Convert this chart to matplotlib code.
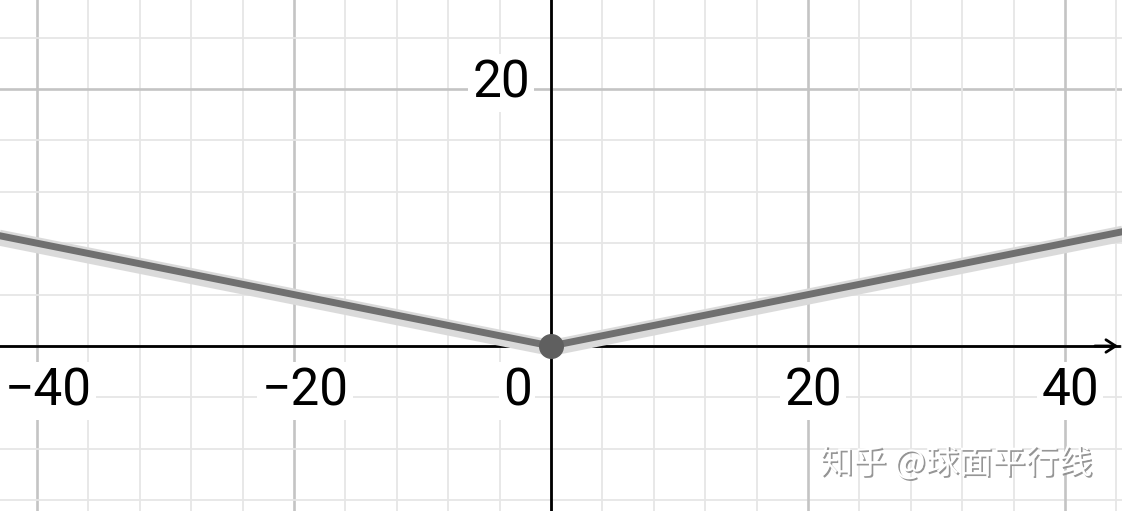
import matplotlib.pyplot as plt
import matplotlib.patheffects as pe
import matplotlib.transforms as mtransforms
import numpy as np

# data: the V-shaped graph
x_vals = [-45, 0, 45]
y_vals = [9, 0, 9]
point_x = [0]
point_y = [0]

x_ticks = [-40, -20, 0, 20, 40]
x_tick_labels = ['\u221240', '\u221220', '0', '20', '40']
y_ticks = [20]
y_tick_labels = ['20']

watermark = '知乎 @球面平行线'

# pixel geometry of the view
W, H = 1122, 511
ox, oy = 551, 346
ppu = 12.85

fig = plt.figure(figsize=(W / 100, H / 100), dpi=100)
ax = fig.add_axes([0, 0, 1, 1])
ax.set_xlim(-ox / ppu, (W - ox) / ppu)
ax.set_ylim(-(H - oy) / ppu, oy / ppu)
ax.set_axis_off()

# grid
for v in np.arange(-60, 61, 4):
    major = v % 20 == 0
    col = '#c4c4c4' if major else '#e6e6e6'
    lw = 1.9 if major else 1.3
    ax.axvline(v, color=col, lw=lw, zorder=1)
    ax.axhline(v, color=col, lw=lw, zorder=1)

# axes
ax.axvline(0, color='black', lw=2.0, zorder=4)
ax.plot([-50, (W - 3 - ox) / ppu], [0, 0], color='black', lw=2.0, zorder=4)
ax.annotate('', xy=((W - 1 - ox) / ppu, 0), xytext=((W - 30 - ox) / ppu, 0),
            arrowprops=dict(arrowstyle='->,head_length=0.7,head_width=0.45',
                            color='black', lw=2.0), zorder=4)

# tick labels
lab_kw = dict(fontsize=37, family='Roboto', color='black', zorder=3,
              bbox=dict(boxstyle='square,pad=0.08', fc='white', ec='none'))
for v, s in zip(x_ticks, x_tick_labels):
    if v == 0:
        ax.text(-34 / ppu, -45 / ppu, s, ha='center', va='center', **lab_kw)
        continue
    off = 11 if v < 0 else 5
    ax.text(v + off / ppu, -45 / ppu, s, ha='center', va='center', **lab_kw)
for v, s in zip(y_ticks, y_tick_labels):
    ax.text(-21 / ppu, v + 6 / ppu, s, ha='right', va='center', **lab_kw)

# graph with halo (halo sits a little below the line)
halo_tr = ax.transData + mtransforms.ScaledTranslation(0, -2 / 100, fig.dpi_scale_trans)
ax.plot(x_vals, y_vals, color='#dadada', lw=11.5, solid_capstyle='butt',
        zorder=5, transform=halo_tr)
ax.plot(x_vals, y_vals, color='#707070', lw=5.0, solid_capstyle='butt', zorder=6)
ax.plot(point_x, point_y, 'o', color='#5f5f5f', ms=17, mec='#5f5f5f', zorder=7)

# watermark
fig.text(820 / W, 1 - 464 / H, watermark, fontsize=24, color='white',
         family=['Noto Sans CJK SC', 'DejaVu Sans'], ha='left', va='center',
         zorder=10,
         path_effects=[pe.withSimplePatchShadow(offset=(1.2, -1.2),
                                                shadow_rgbFace='#8a8a8a',
                                                alpha=0.9)])

fig.savefig('out.png', dpi=100)
